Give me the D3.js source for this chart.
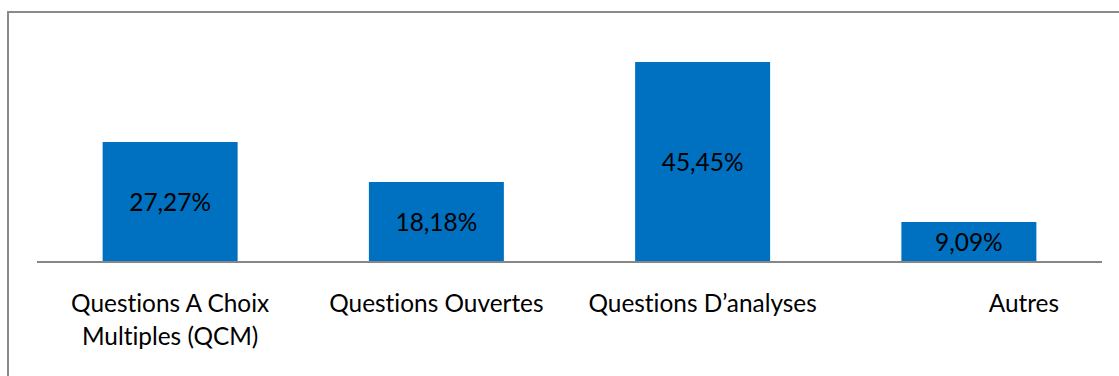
<!DOCTYPE html>
<html>
<head>
<meta charset="utf-8">
<script src="https://cdn.jsdelivr.net/npm/d3@7/dist/d3.min.js"></script>
<style>
  html, body { margin: 0; padding: 0; background: #fff; }
  svg { display: block; }
  text { font-family: Lato, "Open Sans", sans-serif; fill: #000; font-variant-ligatures: none; font-feature-settings: "liga" 0; }
</style>
</head>
<body>
<svg id="chart" width="1119" height="376"></svg>
<script>
// Category labels (each entry is a list of lines)
const categories = [
  ["Questions A Choix", "Multiples (QCM)"],
  ["Questions Ouvertes"],
  ["Questions D\u2019analyses"],
  ["Autres"]
];
// Share of each question type, in percent
const values = [27.27, 18.18, 45.45, 9.09];
// Text shown inside each bar
const valueLabels = ["27,27%", "18,18%", "45,45%", "9,09%"];

const W = 1119, H = 376;
const plot = { left: 37, right: 1102, top: 42, bottom: 262 };
const fontSize = 24.4;

const svg = d3.select("#chart");

// Outer frame (right and bottom edges fall outside the view)
svg.append("rect")
  .attr("x", 8).attr("y", 12)
  .attr("width", W + 10).attr("height", H + 10)
  .attr("fill", "#fff")
  .attr("stroke", "#8a8a8a")
  .attr("stroke-width", 2);

const ids = d3.range(categories.length);

const x = d3.scaleBand()
  .domain(ids)
  .range([plot.left, plot.right])
  .paddingInner(0.493)
  .paddingOuter(0.2465);

const y = d3.scaleLinear()
  .domain([0, 50])
  .range([plot.bottom, plot.top]);

// Bars
svg.append("g").selectAll("rect")
  .data(ids)
  .join("rect")
  .attr("x", i => x(i))
  .attr("y", i => y(values[i]))
  .attr("width", x.bandwidth())
  .attr("height", i => y(0) - y(values[i]))
  .attr("fill", "#0070C0");

// Value labels centred in each bar
svg.append("g").selectAll("text")
  .data(ids)
  .join("text")
  .attr("x", i => x(i) + x.bandwidth() / 2)
  .attr("y", i => (y(values[i]) + y(0)) / 2 + 9)
  .attr("text-anchor", "middle")
  .style("font-size", fontSize + "px")
  .text(i => valueLabels[i]);

// Category axis: baseline without ticks
const xAxis = d3.axisBottom(x).tickSize(0).tickFormat(() => "");
const axisG = svg.append("g")
  .attr("transform", `translate(0,${y(0)})`)
  .call(xAxis);
axisG.select(".domain")
  .attr("d", `M${plot.left},0H${plot.right}`)
  .attr("stroke", "#868686")
  .attr("stroke-width", 2);

// Category labels below the baseline; the last one sits further right
const labelShift = [0, 0, 0, 55];
const lab = svg.append("g").selectAll("text")
  .data(ids)
  .join("text")
  .attr("text-anchor", "middle")
  .attr("transform", i => `translate(${x(i) + x.bandwidth() / 2 + labelShift[i]},312)`)
  .style("font-size", fontSize + "px");
lab.selectAll("tspan")
  .data(i => categories[i])
  .join("tspan")
  .attr("x", 0)
  .attr("y", (d, k) => k * 33)
  .text(d => d);
</script>
</body>
</html>
